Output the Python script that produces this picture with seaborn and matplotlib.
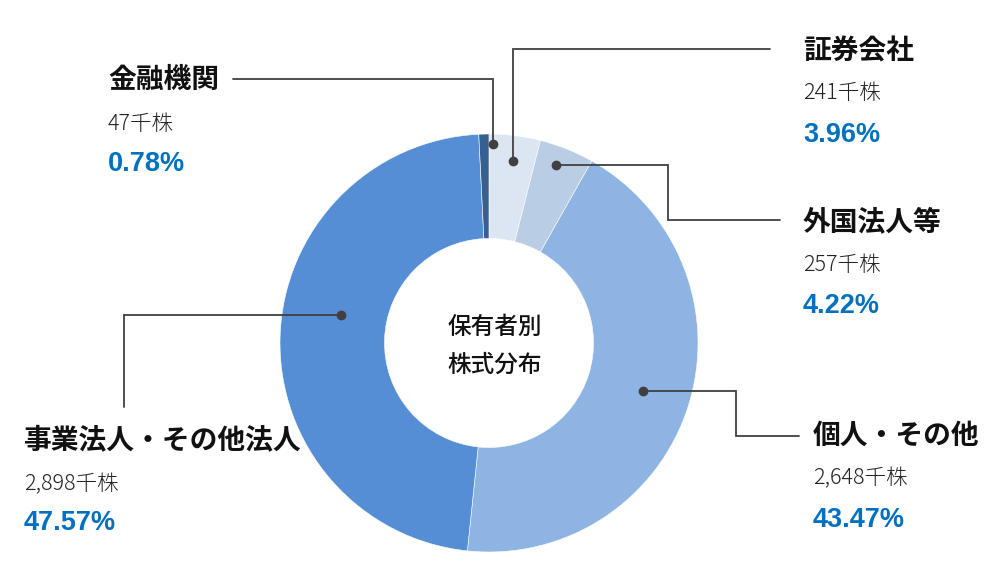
import matplotlib
matplotlib.use("Agg")
import matplotlib.pyplot as plt
import seaborn as sns

sns.set_theme(style="white")
plt.rcParams['font.family'] = ['Noto Sans CJK JP', 'DejaVu Sans']

# データ（時計回り、12時の位置から）
categories = ["証券会社", "外国法人等", "個人・その他", "事業法人・その他法人", "金融機関"]
shares = ["241千株", "257千株", "2,648千株", "2,898千株", "47千株"]
percents = [3.96, 4.22, 43.47, 47.57, 0.78]
colors = ["#dce6f2", "#b9cde5", "#8eb4e3", "#558ed5", "#376092"]

W, H = 1007, 576
fig = plt.figure(figsize=(W / 100, H / 100), dpi=100)
ax = fig.add_axes([0, 0, 1, 1])

def Y(y):
    # 画像座標(上から)をaxes座標(下から)へ
    return H - y

cx, cy, R = 489, Y(343), 209
ax.pie(percents, colors=colors, startangle=90, counterclock=False,
       center=(cx, cy), radius=R,
       wedgeprops=dict(width=R * 0.5, edgecolor='white', linewidth=0.4))

# pie() が軸範囲を上書きするので後で設定
ax.set_xlim(0, W)
ax.set_ylim(0, H)
ax.set_aspect('equal')
ax.axis('off')

# 中央のテキスト
ax.text(495, Y(327), "保有者別", ha='center', va='center', fontsize=17,
        fontweight='medium', color='#111111')
ax.text(495, Y(365), "株式分布", ha='center', va='center', fontsize=17,
        fontweight='medium', color='#111111')

# 引き出し線（折れ線の点）とラベル位置
callouts = {
    "証券会社": [(513, 161), (513, 49), (770, 49)],
    "外国法人等": [(556, 165), (668, 165), (668, 220), (780, 220)],
    "個人・その他": [(643, 391), (736, 391), (736, 436), (799, 436)],
    "事業法人・その他法人": [(341, 315), (124, 315), (124, 407)],
    "金融機関": [(493, 144), (493, 79), (233, 79)],
}
label_pos = {
    "証券会社": (803, 51, 93, 135),
    "外国法人等": (803, 222, 265, 306),
    "個人・その他": (813, 436, 478, 520),
    "事業法人・その他法人": (24, 440, 484, 523),
    "金融機関": (108, 80, 124, 164),
}

line_c = '#404040'
for cat, sh, pct in zip(categories, shares, percents):
    pts = callouts[cat]
    ax.plot([p[0] for p in pts], [Y(p[1]) for p in pts], color=line_c, lw=1.3,
            solid_joinstyle='miter')
    ax.plot(pts[0][0], Y(pts[0][1]), 'o', color=line_c, ms=6)
    x, y1, y2, y3 = label_pos[cat]
    ax.text(x, Y(y1), cat, ha='left', va='center', fontsize=20, fontweight='bold',
            color='#111111')
    ax.text(x, Y(y2), sh, ha='left', va='center', fontsize=15.5, fontweight='light',
            color='#222222')
    ax.text(x, Y(y3), f"{pct:.2f}%", ha='left', va='center', fontsize=19.5,
            fontweight='bold', family=['Liberation Sans', 'DejaVu Sans'], color='#0070c0')

fig.savefig("out.png", dpi=100)
